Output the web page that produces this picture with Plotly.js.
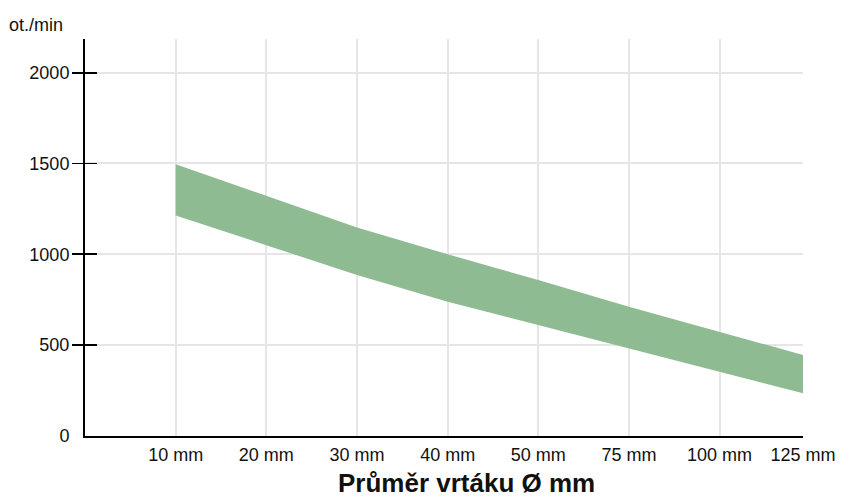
<!DOCTYPE html>
<html>
<head>
<meta charset="utf-8">
<script src="https://cdn.plot.ly/plotly-3.0.1.min.js"></script>
<style>html,body{margin:0;padding:0;background:#fff;}#chart{width:851px;height:497px;}</style>
</head>
<body>
<div id="chart"></div>
<script>
// drill diameters (tick labels) and their positions on the axis
const sizes = ['10 mm', '20 mm', '30 mm', '40 mm', '50 mm', '75 mm', '100 mm', '125 mm'];
const sizePos = [1, 2, 3, 4, 5, 6, 7, 7.92];
// recommended speed band, rpm (ot./min)
const rpmMax = [1495, 1320, 1148, 1000, 858, 711, 574, 446];
const rpmMin = [1214, 1052, 886, 739, 611, 482, 354, 235];
const yTicks = [0, 500, 1000, 1500, 2000];
const yTicksCross = [500, 1000, 1500, 2000];

const fillColor = 'rgb(143,187,147)';
const fontFam = '"Liberation Sans", Arial, Helvetica, sans-serif';

const traces = [
  {x: sizePos, y: rpmMin, mode: 'lines', line: {width: 0, color: fillColor}, hoverinfo: 'skip', showlegend: false},
  {x: sizePos, y: rpmMax, mode: 'lines', line: {width: 0, color: fillColor}, fill: 'tonexty', fillcolor: fillColor, hoverinfo: 'skip', showlegend: false},
  {x: [], y: [], xaxis: 'x', yaxis: 'y2', mode: 'lines', showlegend: false, hoverinfo: 'skip'}
];

const layout = {
  width: 851, height: 497,
  margin: {l: 85, r: 48, t: 39, b: 61, pad: 0},
  paper_bgcolor: '#fff', plot_bgcolor: '#fff',
  font: {family: fontFam, size: 18, color: '#111'},
  showlegend: false,
  xaxis: {
    range: [0, 7.92], tickmode: 'array', tickvals: sizePos, ticktext: sizes,
    showgrid: true, gridcolor: '#e6e6e6', gridwidth: 2,
    showline: true, linecolor: '#000', linewidth: 2, zeroline: false,
    ticks: '', ticklabelstandoff: 1, fixedrange: true
  },
  yaxis: {
    range: [0, 2185], tickmode: 'array', tickvals: yTicks,
    showgrid: true, gridcolor: '#e6e6e6', gridwidth: 2,
    showline: true, linecolor: '#000', linewidth: 2, zeroline: false,
    ticks: 'inside', ticklen: 12, tickwidth: 1.8, tickcolor: '#000',
    ticklabelstandoff: 10, fixedrange: true
  },
  yaxis2: {
    overlaying: 'y', side: 'left', range: [0, 2185], tickmode: 'array', tickvals: yTicksCross,
    showgrid: false, showline: false, zeroline: false, showticklabels: false,
    ticks: 'outside', ticklen: 12, tickwidth: 1.8, tickcolor: '#000', fixedrange: true
  },
  annotations: [
    {text: 'ot./min', xref: 'paper', yref: 'paper', x: -0.108, y: 1.0, xanchor: 'left', yanchor: 'bottom', yshift: 2,
     showarrow: false, font: {family: fontFam, size: 18, color: '#111'}},
    {text: '<b>Průměr vrtáku Ø mm</b>', xref: 'paper', yref: 'paper', x: 0.532, y: 0, xanchor: 'center', yanchor: 'top', yshift: -30,
     showarrow: false, font: {family: fontFam, size: 26, color: '#111'}}
  ]
};

Plotly.newPlot('chart', traces, layout, {displayModeBar: false, staticPlot: true});
</script>
</body>
</html>
